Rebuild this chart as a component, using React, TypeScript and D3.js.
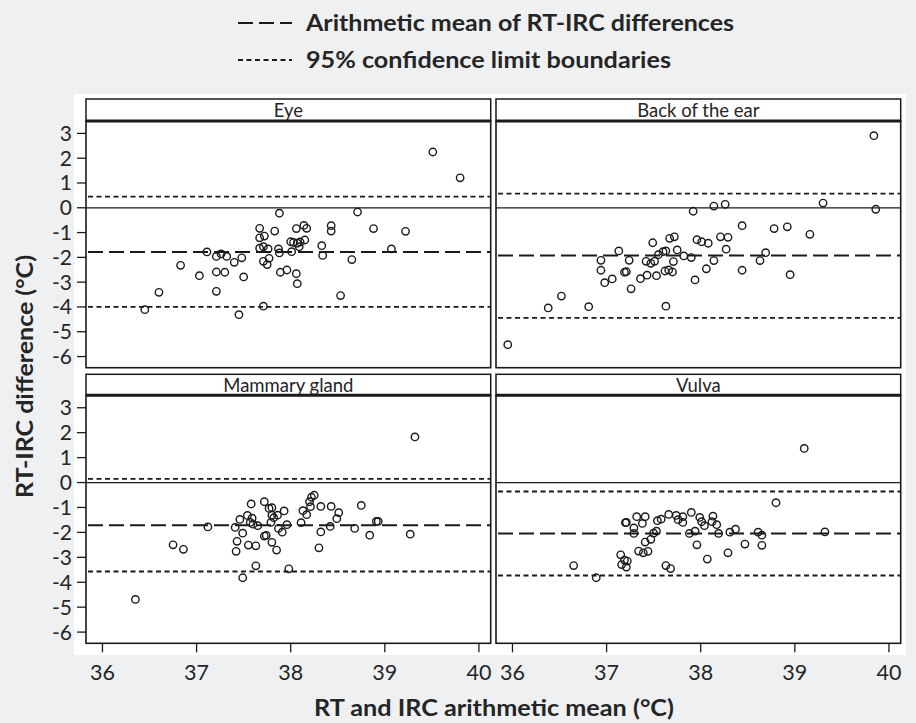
import { useMemo } from 'react';
import * as d3 from 'd3';

// Bland-Altman data: [arithmetic mean (°C), RT-IRC difference (°C)]
const EYE: [number, number][] = [
  [36.45, -4.11], [36.6, -3.41], [36.83, -2.32], [37.03, -2.74], [37.11, -1.78],
  [37.21, -1.96], [37.26, -1.86], [37.21, -2.59], [37.3, -2.6], [37.21, -3.37],
  [37.32, -1.96], [37.4, -2.2], [37.48, -2.02], [37.5, -2.79], [37.45, -4.31],
  [37.67, -0.83], [37.67, -1.21], [37.72, -1.14], [37.67, -1.63], [37.71, -1.57],
  [37.76, -1.66], [37.71, -2.16], [37.77, -2.04], [37.75, -2.29], [37.71, -3.97],
  [37.83, -0.94], [37.88, -0.22], [37.87, -1.66], [37.88, -1.82], [37.89, -2.6],
  [37.96, -2.51], [38.06, -0.84], [38.0, -1.37], [38.03, -1.4], [38.01, -1.77],
  [38.07, -1.43], [38.1, -1.38], [38.09, -1.57], [38.15, -1.3], [38.14, -0.71],
  [38.17, -0.83], [38.06, -2.66], [38.07, -3.06], [38.33, -1.53], [38.34, -1.92],
  [38.43, -0.72], [38.43, -0.94], [38.53, -3.54], [38.65, -2.09], [38.71, -0.17],
  [38.88, -0.84], [39.07, -1.66], [39.22, -0.95], [39.51, 2.25], [39.8, 1.21],
];

const EAR: [number, number][] = [
  [35.95, -5.52], [36.38, -4.04], [36.52, -3.56], [36.81, -3.99], [36.94, -2.12],
  [36.94, -2.52], [36.98, -3.02], [37.06, -2.87], [37.13, -1.74], [37.24, -2.12],
  [37.19, -2.6], [37.21, -2.58], [37.26, -3.27], [37.36, -2.86], [37.43, -2.72],
  [37.42, -2.16], [37.47, -2.24], [37.51, -2.16], [37.49, -1.41], [37.53, -2.74],
  [37.55, -1.89], [37.6, -1.77], [37.63, -1.74], [37.62, -2.55], [37.66, -2.51],
  [37.7, -2.59], [37.71, -2.17], [37.63, -3.97], [37.67, -1.23], [37.72, -1.17],
  [37.75, -1.7], [37.82, -1.94], [37.9, -2.01], [37.92, -0.14], [37.94, -2.91],
  [37.96, -1.29], [38.01, -1.37], [38.08, -1.43], [38.06, -2.46], [38.14, -2.13],
  [38.14, 0.07], [38.26, 0.14], [38.21, -1.17], [38.29, -1.19], [38.27, -1.67],
  [38.44, -0.72], [38.44, -2.52], [38.63, -2.13], [38.69, -1.81], [38.78, -0.84],
  [38.92, -0.77], [38.95, -2.7], [39.16, -1.07], [39.3, 0.19], [39.84, 2.91],
  [39.86, -0.06],
];

const MAMMARY: [number, number][] = [
  [36.35, -4.69], [36.75, -2.5], [36.86, -2.68], [37.12, -1.78], [37.41, -1.8],
  [37.43, -2.36], [37.42, -2.76], [37.46, -1.48], [37.49, -2.03], [37.49, -3.82],
  [37.54, -1.32], [37.55, -2.51], [37.58, -0.86], [37.59, -1.43], [37.57, -1.6],
  [37.6, -1.67], [37.63, -2.54], [37.63, -3.34], [37.65, -1.73], [37.72, -0.77],
  [37.72, -2.15], [37.74, -2.12], [37.77, -1.04], [37.8, -1.01], [37.8, -1.31],
  [37.79, -1.6], [37.82, -1.41], [37.86, -1.31], [37.8, -2.4], [37.85, -2.71],
  [37.87, -1.84], [37.91, -1.99], [37.93, -1.14], [37.96, -1.69], [37.98, -3.46],
  [38.11, -1.61], [38.13, -1.13], [38.17, -1.29], [38.21, -0.97], [38.2, -0.77],
  [38.22, -0.59], [38.25, -0.51], [38.3, -2.62], [38.32, -1.98], [38.32, -0.96],
  [38.43, -0.96], [38.42, -1.76], [38.49, -1.45], [38.51, -1.21], [38.68, -1.84],
  [38.75, -0.92], [38.84, -2.11], [38.91, -1.56], [38.93, -1.56], [39.27, -2.07],
  [39.32, 1.83],
];

const VULVA: [number, number][] = [
  [36.65, -3.33], [36.89, -3.82], [37.15, -2.9], [37.16, -3.29], [37.19, -3.11],
  [37.21, -3.39], [37.22, -3.15], [37.21, -1.6], [37.2, -1.61], [37.29, -1.82],
  [37.29, -2.04], [37.32, -1.37], [37.38, -1.64], [37.41, -1.37], [37.34, -2.75],
  [37.39, -2.82], [37.44, -2.76], [37.41, -2.39], [37.47, -2.28], [37.5, -2.03],
  [37.53, -1.95], [37.54, -1.53], [37.58, -1.47], [37.63, -3.33], [37.68, -3.45],
  [37.66, -1.28], [37.74, -1.32], [37.76, -1.49], [37.81, -1.37], [37.81, -1.6],
  [37.9, -1.2], [37.88, -2.04], [37.94, -1.95], [37.96, -2.5], [37.99, -1.4],
  [38.01, -1.57], [38.04, -1.73], [38.07, -3.07], [38.13, -1.35], [38.12, -1.57],
  [38.17, -1.69], [38.19, -2.04], [38.29, -2.82], [38.31, -1.99], [38.37, -1.87],
  [38.47, -2.47], [38.61, -1.99], [38.65, -2.11], [38.65, -2.52], [38.8, -0.81],
  [39.1, 1.37], [39.32, -1.98],
];

const PANEL_NAMES = ['Eye', 'Back of the ear', 'Mammary gland', 'Vulva'];
const PANEL_DATA = [EYE, EAR, MAMMARY, VULVA];
const MEAN_DIFF = [-1.78, -1.92, -1.71, -2.04];
const UPPER_LIMIT = [0.45, 0.57, 0.15, -0.36];
const LOWER_LIMIT = [-4.0, -4.44, -3.57, -3.73];

const X_TICKS = [36, 37, 38, 39, 40];
const Y_TICKS = [3, 2, 1, 0, -1, -2, -3, -4, -5, -6];

const LEGEND_LABELS = ['Arithmetic mean of RT-IRC differences', '95% confidence limit boundaries'];

const W = 916;
const H = 723;
const FONT = 'Lato, "Open Sans", sans-serif';
const INK = '#1a1a1a';
const TEXT = '#252525';

const COL_X = [86, 496];
const PANEL_W = 404.7;
const ROWS = [
  { head: 99, top: 121, bottom: 367.7 },
  { head: 374.3, top: 395.3, bottom: 643.3 },
];

const MEAN_DASH = '15,6';
const CL_DASH = '5,3.5';

export default function App() {
  const panels = useMemo(
    () =>
      PANEL_NAMES.map((name, i) => {
        const col = i % 2;
        const row = Math.floor(i / 2);
        const r = ROWS[row];
        const x = d3.scaleLinear().domain([35.825, 40.125]).range([COL_X[col], COL_X[col] + PANEL_W]);
        const y = d3.scaleLinear().domain([3.5, -6.45]).range([r.top, r.bottom]);
        return { name, col, row, r, x, y, data: PANEL_DATA[i], i };
      }),
    []
  );

  return (
    <svg
      width={W}
      height={H}
      viewBox={`0 0 ${W} ${H}`}
      style={{ position: 'absolute', left: 0, top: 0, display: 'block' }}
      fontFamily={FONT}
    >
      <rect width={W} height={H} fill="#eff0f2" />
      <rect x={74} y={94} width={832} height={561} fill="#ffffff" />

      {/* Legend */}
      <g>
        <line x1={238} x2={292} y1={23} y2={23} stroke={INK} strokeWidth={2.2} strokeDasharray={MEAN_DASH} />
        <line x1={238} x2={292} y1={60} y2={60} stroke={INK} strokeWidth={2} strokeDasharray={CL_DASH} />
        <text x={306} y={31} fontSize={23} fontWeight={700} fill={TEXT} textLength={428} lengthAdjust="spacingAndGlyphs">
          {LEGEND_LABELS[0]}
        </text>
        <text x={306} y={68} fontSize={23} fontWeight={700} fill={TEXT} textLength={365} lengthAdjust="spacingAndGlyphs">
          {LEGEND_LABELS[1]}
        </text>
      </g>

      {panels.map((p) => {
        const x0 = COL_X[p.col];
        const x1 = x0 + PANEL_W;
        return (
          <g key={p.name}>
            {/* header strip */}
            <rect x={x0} y={p.r.head} width={PANEL_W} height={p.r.top - p.r.head} fill="#fff" stroke={INK} strokeWidth={1.5} />
            <text x={(x0 + x1) / 2} y={p.r.head + 17.5} textAnchor="middle" fontSize={18.5} fontWeight={400} fill={TEXT}>
              {p.name}
            </text>
            {/* plot frame */}
            <rect x={x0} y={p.r.top} width={PANEL_W} height={p.r.bottom - p.r.top} fill="#fff" stroke={INK} strokeWidth={1.6} />
            <line x1={x0} x2={x1} y1={p.r.top} y2={p.r.top} stroke={INK} strokeWidth={3} />

            {/* reference lines */}
            <line x1={x0} x2={x1} y1={p.y(0)} y2={p.y(0)} stroke={INK} strokeWidth={1.3} />
            <line x1={x0 + 2} x2={x1} y1={p.y(MEAN_DIFF[p.i])} y2={p.y(MEAN_DIFF[p.i])} stroke={INK} strokeWidth={2} strokeDasharray={MEAN_DASH} />
            <line x1={x0 + 2} x2={x1} y1={p.y(UPPER_LIMIT[p.i])} y2={p.y(UPPER_LIMIT[p.i])} stroke={INK} strokeWidth={1.8} strokeDasharray={CL_DASH} />
            <line x1={x0 + 2} x2={x1} y1={p.y(LOWER_LIMIT[p.i])} y2={p.y(LOWER_LIMIT[p.i])} stroke={INK} strokeWidth={1.8} strokeDasharray={CL_DASH} />

            {/* points */}
            {p.data.map(([mx, dy], k) => (
              <circle key={k} cx={p.x(mx)} cy={p.y(dy)} r={3.7} fill="none" stroke={INK} strokeWidth={1.4} />
            ))}

            {/* y axis on left column */}
            {p.col === 0 &&
              Y_TICKS.map((t) => (
                <g key={t}>
                  <line x1={x0 - 9} x2={x0} y1={p.y(t)} y2={p.y(t)} stroke={INK} strokeWidth={1.3} />
                  <text x={x0 - 14} y={p.y(t) + 7.5} textAnchor="end" fontSize={21} fill={TEXT}>
                    {t < 0 ? `-${Math.abs(t)}` : t}
                  </text>
                </g>
              ))}

            {/* x axis on bottom row */}
            {p.row === 1 &&
              X_TICKS.map((t) => (
                <g key={t}>
                  <line x1={p.x(t)} x2={p.x(t)} y1={p.r.bottom} y2={p.r.bottom + 9} stroke={INK} strokeWidth={1.3} />
                  <text x={p.x(t)} y={679.5} textAnchor="middle" fontSize={21.5} fill={TEXT}>
                    {t}
                  </text>
                </g>
              ))}
          </g>
        );
      })}

      {/* axis titles */}
      <text x={494} y={716} textAnchor="middle" fontSize={23.5} fontWeight={700} fill={TEXT} textLength={360} lengthAdjust="spacingAndGlyphs">
        RT and IRC arithmetic mean (°C)
      </text>
      <text
        transform="translate(33,376.5) rotate(-90)"
        textAnchor="middle"
        fontSize={23.5}
        fontWeight={700}
        fill={TEXT}
        textLength={243}
        lengthAdjust="spacingAndGlyphs"
      >
        RT-IRC difference (°C)
      </text>
    </svg>
  );
}
